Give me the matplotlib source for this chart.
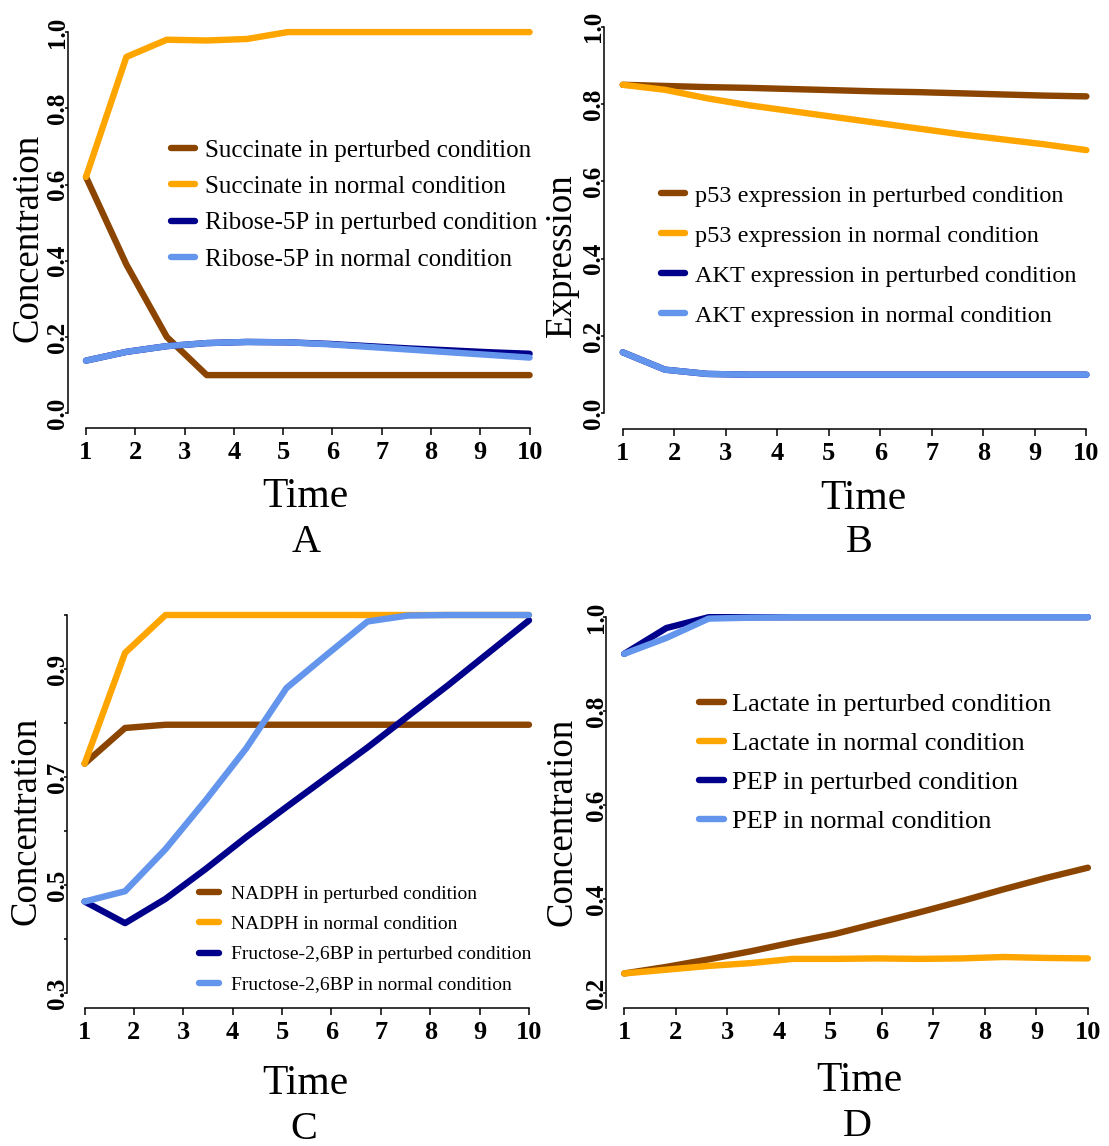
import matplotlib
matplotlib.use("Agg")
import matplotlib.pyplot as plt

plt.rcParams["font.family"] = ["Liberation Serif", "DejaVu Serif"]

# ---- data ----
time = [1, 1.82, 2.64, 3.45, 4.27, 5.09, 5.91, 6.73, 7.55, 8.36, 9.18, 10]
xticks = [1, 2, 3, 4, 5, 6, 7, 8, 9, 10]

# A
succinate_pert = [0.62, 0.39, 0.20, 0.10, 0.10, 0.10, 0.10, 0.10, 0.10, 0.10, 0.10, 0.10]
succinate_norm = [0.62, 0.935, 0.98, 0.978, 0.982, 1.0, 1.0, 1.0, 1.0, 1.0, 1.0, 1.0]
ribose_pert = [0.138, 0.161, 0.176, 0.184, 0.187, 0.186, 0.182, 0.176, 0.170, 0.165, 0.160, 0.156]
ribose_norm = [0.138, 0.161, 0.176, 0.184, 0.187, 0.186, 0.181, 0.174, 0.167, 0.160, 0.153, 0.146]
labels_a = ["Succinate in perturbed condition", "Succinate in normal condition",
            "Ribose-5P in perturbed condition", "Ribose-5P in normal condition"]

# B
p53_pert = [0.85, 0.847, 0.844, 0.842, 0.839, 0.836, 0.833, 0.831, 0.828, 0.825, 0.822, 0.82]
p53_norm = [0.85, 0.837, 0.815, 0.797, 0.782, 0.767, 0.752, 0.737, 0.722, 0.709, 0.696, 0.681]
akt_pert = [0.158, 0.113, 0.102, 0.10, 0.10, 0.10, 0.10, 0.10, 0.10, 0.10, 0.10, 0.10]
akt_norm = [0.158, 0.113, 0.102, 0.10, 0.10, 0.10, 0.10, 0.10, 0.10, 0.10, 0.10, 0.10]
labels_b = ["p53 expression in perturbed condition", "p53 expression in normal condition",
            "AKT expression in perturbed condition", "AKT expression in normal condition"]

# C
nadph_pert = [0.725, 0.791, 0.797, 0.797, 0.797, 0.797, 0.797, 0.797, 0.797, 0.797, 0.797, 0.797]
nadph_norm = [0.725, 0.93, 1.0, 1.0, 1.0, 1.0, 1.0, 1.0, 1.0, 1.0, 1.0, 1.0]
f26bp_pert = [0.47, 0.43, 0.475, 0.53, 0.589, 0.645, 0.70, 0.755, 0.813, 0.87, 0.93, 0.99]
f26bp_norm = [0.47, 0.489, 0.567, 0.657, 0.753, 0.865, 0.927, 0.988, 0.999, 1.0, 1.0, 1.0]
labels_c = ["NADPH in perturbed condition", "NADPH in normal condition",
            "Fructose-2,6BP in perturbed condition", "Fructose-2,6BP in normal condition"]

# D
lactate_pert = [0.242, 0.256, 0.272, 0.289, 0.308, 0.326, 0.349, 0.372, 0.396, 0.421, 0.445, 0.467]
lactate_norm = [0.242, 0.25, 0.258, 0.264, 0.273, 0.273, 0.274, 0.273, 0.274, 0.277, 0.275, 0.274]
pep_pert = [0.922, 0.977, 1.0, 1.0, 1.0, 1.0, 1.0, 1.0, 1.0, 1.0, 1.0, 1.0]
pep_norm = [0.922, 0.956, 0.997, 0.999, 1.0, 1.0, 1.0, 1.0, 1.0, 1.0, 1.0, 1.0]
labels_d = ["Lactate in perturbed condition", "Lactate in normal condition",
            "PEP in perturbed condition", "PEP in normal condition"]

colors = ["#8B4500", "#FFA500", "#00008B", "#6495ED"]

W, H = 1109, 1146
fig = plt.figure(figsize=(W / 100, H / 100), dpi=100)


def fx(px):
    return px / W


def fy(py):
    return 1 - py / H


def panel(box, xlim, ylim, yticks, ylabels, spine_low, series, labels, leg):
    left, right, top, bottom = box
    ax = fig.add_axes([fx(left), fy(bottom), (right - left) / W, (bottom - top) / H])
    for ys, c, lab in zip(series, colors, labels):
        ax.plot(time, ys, color=c, lw=4.6, label=lab, clip_on=False,
                solid_capstyle="round")
    ax.set_xlim(*xlim)
    ax.set_ylim(*ylim)
    for s in ["top", "right"]:
        ax.spines[s].set_visible(False)
    ax.spines["left"].set_bounds(spine_low, 1.0)
    ax.spines["bottom"].set_bounds(1, 10)
    ax.spines["left"].set_linewidth(1.1)
    ax.spines["bottom"].set_linewidth(1.1)
    ax.set_xticks(xticks)
    ax.set_xticklabels([str(t) for t in xticks], fontsize=19, fontweight="bold")
    ax.set_yticks(yticks)
    ax.set_yticklabels(ylabels, fontsize=18, fontweight="bold", rotation=90, va="center")
    ax.tick_params(axis="x", length=4.7, width=1.1, pad=4.7)
    ax.tick_params(axis="y", length=2.2, width=1.1, pad=-3.5)
    lx, ly, fs, hl, htp, ls = leg
    ax.legend(loc="center left", bbox_to_anchor=(fx(lx), fy(ly)),
              bbox_transform=fig.transFigure, frameon=False, fontsize=fs,
              handlelength=hl, handletextpad=htp, labelspacing=ls,
              borderpad=0, borderaxespad=0)
    return ax


yt_full = [0.0, 0.2, 0.4, 0.6, 0.8, 1.0]
yl_full = ["0.0", "0.2", "0.4", "0.6", "0.8", "1.0"]

panel((67.5, 529.6, 32.1, 428), (0.625, 10), (-0.0388, 1.0), yt_full, yl_full, 0.0,
      [succinate_pert, succinate_norm, ribose_pert, ribose_norm], labels_a,
      (171, 205, 18, 0.95, 0.40, 0.55))
panel((603.5, 1086.4, 26.8, 428.8), (0.627, 10), (-0.040, 1.0), yt_full, yl_full, 0.0,
      [p53_pert, p53_norm, akt_pert, akt_norm], labels_b,
      (661, 255.5, 17.5, 1.0, 0.38, 0.74))

yt_c = [0.3, 0.4, 0.5, 0.6, 0.7, 0.8, 0.9, 1.0]
yl_c = ["0.3", "", "0.5", "", "0.7", "", "0.9", ""]
panel((66.8, 529, 615, 1007.8), (0.640, 10), (0.2734, 1.0), yt_c, yl_c, 0.3,
      [nadph_pert, nadph_norm, f26bp_pert, f26bp_norm], labels_c,
      (199, 939.5, 14, 1.05, 0.62, 0.64))

yt_d = [0.2, 0.4, 0.6, 0.8, 1.0]
yl_d = ["0.2", "0.4", "0.6", "0.8", "1.0"]
panel((606.4, 1087.9, 617.2, 1008), (0.6545, 10), (0.1685, 1.0), yt_d, yl_d, 0.1685,
      [lactate_pert, lactate_norm, pep_pert, pep_norm], labels_d,
      (699, 763, 19, 0.93, 0.31, 0.59))

# axis titles and panel letters
for x, y in [(305, 507), (863, 509), (305, 1094), (859, 1091)]:
    fig.text(fx(x), fy(y), "Time", fontsize=30, ha="center", va="baseline")
for x, y, s in [(306, 552, "A"), (859, 552, "B"), (304, 1139, "C"), (857, 1136, "D")]:
    fig.text(fx(x), fy(y), s, fontsize=29, ha="center", va="baseline")
for x, y, s in [(28, 238, "Concentration"), (562, 255, "Expression"),
                (26, 821, "Concentration"), (562, 822, "Concentration")]:
    fig.text(fx(x), fy(y), s, fontsize=26.5, rotation=90, ha="center", va="center")

fig.savefig("out.png", dpi=100)
